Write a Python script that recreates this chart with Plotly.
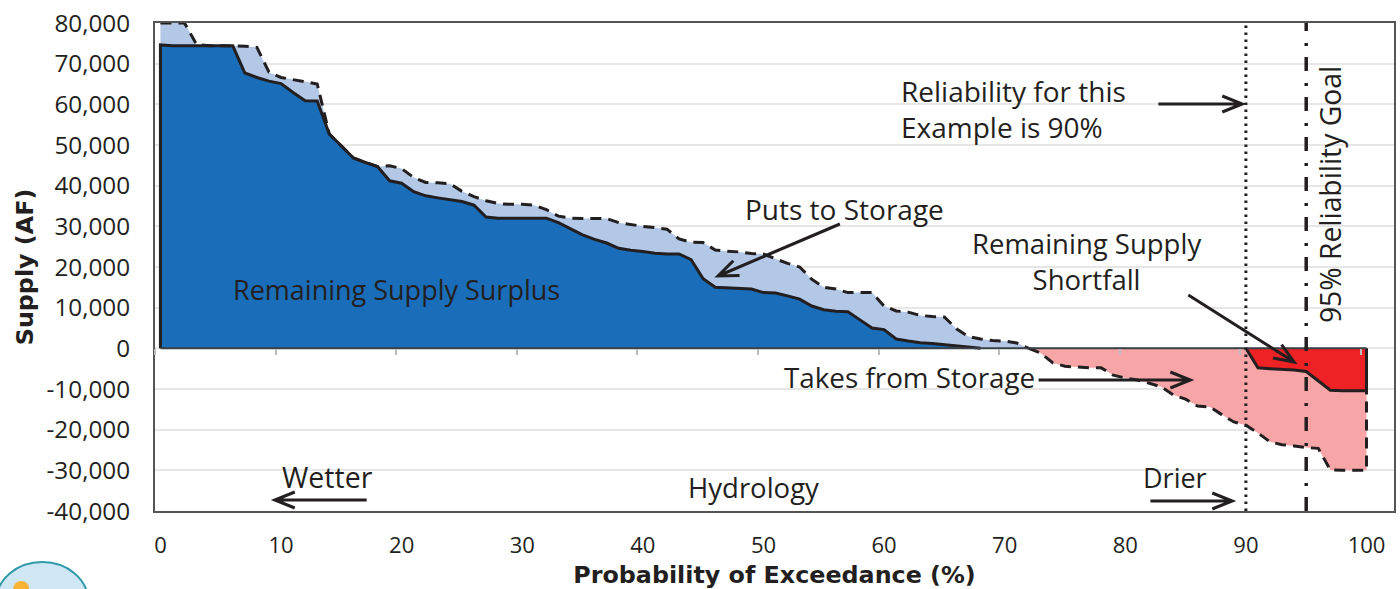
import plotly.graph_objects as go

# ---- data -------------------------------------------------------------
remaining_pct = list(range(0, 69))
remaining_supply = [74600, 74400, 74400, 74400, 74400, 74400, 74400, 67700, 66600, 65700,
    65100, 62900, 60900, 60800, 52700, 49800, 46800, 45700, 44700, 41200,
    40600, 38500, 37500, 37000, 36500, 36100, 35200, 32300, 32000, 32000,
    32000, 32000, 32000, 30900, 29300, 27900, 26800, 25900, 24600, 24100,
    23800, 23400, 23200, 23200, 21800, 17100, 15000, 14900, 14700, 14600,
    13700, 13600, 12900, 12100, 10400, 9500, 9100, 9000, 7000, 5000,
    4600, 2300, 1800, 1400, 1200, 900, 500, 300, 0]

puts_pct = list(range(0, 73))
with_puts = [80000, 80000, 80000, 74700, 74400, 74400, 74400, 74300, 74000, 67900,
    66600, 66100, 65600, 65000, 52700, 49800, 46800, 45700, 44700, 44900,
    44200, 42000, 40800, 40700, 40500, 38600, 37300, 36300, 35600, 35400,
    35400, 35200, 34100, 32500, 32000, 31900, 31900, 31900, 30900, 30400,
    30000, 29700, 29300, 26900, 26100, 26000, 24200, 23900, 23700, 23300,
    23200, 22000, 20900, 20000, 17000, 15000, 14600, 13700, 13700, 13700,
    10400, 9200, 8900, 8100, 7800, 7700, 4800, 2900, 2300, 1900,
    1800, 1300, 0]

takes_pct = list(range(72, 101))
with_takes = [0, -1200, -3600, -4400, -4600, -4800, -4800, -6600, -7300, -7800,
    -8600, -9500, -11500, -12500, -14200, -14400, -16300, -18100, -18900, -20800,
    -23000, -23700, -24000, -24400, -24600, -29900, -30000, -30000, -30000]

shortfall_pct = list(range(90, 101))
shortfall = [0, -4800, -5000, -5100, -5300, -5700, -8100, -10300, -10400, -10400, -10400]

x_ticks = list(range(0, 101, 10))
y_ticks = list(range(-40000, 80001, 10000))

# ---- figure geometry (page pixels; body margin removed at write time) ---
L, R, T, B = 155, 1396, 23, 511
W, H = 1400, 589
X_RANGE = [-0.45, 102.28]
def xp(px): return (px - L) / (R - L)
def yp(py): return 1 - (py - T) / (B - T)

FONT = "Open Sans"
INK = "#231f20"
BLUE, LBLUE, PINK, RED = "#1a6db8", "#b3c7e6", "#f8a5a8", "#ee2224"

fig = go.Figure()
def area(x, y, fc):
    fig.add_trace(go.Scatter(x=x, y=y, mode="none", fill="tozeroy", fillcolor=fc,
                             hoverinfo="skip", showlegend=False))
def line(x, y, dash):
    fig.add_trace(go.Scatter(x=x, y=y, mode="lines", hoverinfo="skip", showlegend=False,
                             line=dict(color=INK, width=3, dash=dash)))

area(puts_pct, with_puts, LBLUE)
area(takes_pct, with_takes, PINK)
area(remaining_pct, remaining_supply, BLUE)
area(shortfall_pct, shortfall, RED)
line(puts_pct + [None] + takes_pct + [100], with_puts + [None] + with_takes + [shortfall[-1]], "11px,7px")
line([0] + remaining_pct, [0] + remaining_supply, "solid")
line(shortfall_pct + [100], shortfall + [0], "solid")

# tick carrier on the zero line
fig.add_trace(go.Scatter(x=[0, 100], y=[0, 0], xaxis="x2", mode="lines", hoverinfo="skip",
                         showlegend=False, line=dict(color="#3a4045", width=2)))

fig.update_layout(
    width=W, height=H, autosize=False,
    margin=dict(l=L, r=W - R, t=T, b=H - B),
    paper_bgcolor="white", plot_bgcolor="white",
    font=dict(family=FONT, color=INK, size=24.3),
    xaxis=dict(range=X_RANGE, tickmode="array", tickvals=x_ticks, ticks="",
               tickfont=dict(size=22), showgrid=False, zeroline=False, ticklabelstandoff=14,
               showline=True, mirror=True, linecolor="#555555", linewidth=2,
               title=dict(text="<b>Probability of Exceedance (%)</b>",
                          font=dict(family="DejaVu Sans", size=23.8), standoff=8)),
    xaxis2=dict(range=X_RANGE, overlaying="x", anchor="free", position=40000 / 120000,
                tickmode="array", tickvals=[k * 10 - 0.45 for k in range(11)], ticks="outside",
                ticklen=6, tickcolor="#bbbbbb", tickwidth=1.5, showticklabels=False,
                showgrid=False, zeroline=False, showline=False),
    yaxis=dict(range=[-40000, 80000], tickmode="array", tickvals=y_ticks,
               ticktext=[f"{v:,}" for v in y_ticks], ticks="", ticklabelstandoff=18,
               ticklabeloverflow="allow",
               showgrid=True, gridcolor="#e6e6e6", gridwidth=1.5, zeroline=False,
               showline=True, mirror=True, linecolor="#555555", linewidth=2,
               title=dict(text="<b>Supply (AF)</b>",
                          font=dict(family="DejaVu Sans", size=23.8), standoff=6)),
)

# ---- reference lines ---------------------------------------------------
shapes = []
shapes.append(dict(type="line", xref="x", yref="paper", x0=90, x1=90, y0=0, y1=1,
                   line=dict(color=INK, width=3, dash="2.5px,4.5px")))
shapes.append(dict(type="line", xref="x", yref="paper", x0=95, x1=95, y0=0, y1=1,
                   line=dict(color=INK, width=3.5, dash="14px,11px,3px,12px")))

# ---- open-headed arrows ------------------------------------------------
def arrow(x0, y0, x1, y1, hl=20, hw=8, width=3):
    dx, dy = x1 - x0, y1 - y0
    n = (dx * dx + dy * dy) ** 0.5
    ux, uy = dx / n, dy / n
    ax, ay = x1 - ux * hl - uy * hw, y1 - uy * hl + ux * hw
    bx, by = x1 - ux * hl + uy * hw, y1 - uy * hl - ux * hw
    path = (f"M{xp(x0)},{yp(y0)} L{xp(x1)},{yp(y1)} "
            f"M{xp(ax)},{yp(ay)} L{xp(x1)},{yp(y1)} L{xp(bx)},{yp(by)}")
    shapes.append(dict(type="path", xref="paper", yref="paper", path=path,
                       line=dict(color=INK, width=width)))

arrow(1160, 104, 1244, 104)
arrow(841, 224, 719, 276)
arrow(1190, 295, 1296, 362)
arrow(1040, 380, 1192, 380)
arrow(367, 500, 275, 500)
arrow(1152, 501, 1234, 501)

# ---- logo fragment bottom-left ------------------------------------------
shapes.append(dict(type="circle", xref="paper", yref="paper", layer="below",
                   x0=xp(-4), x1=xp(88), y0=yp(562), y1=yp(640),
                   fillcolor="#cfe6f5", line=dict(color="#2f9aa8", width=2)))
shapes.append(dict(type="circle", xref="paper", yref="paper", layer="below",
                   x0=xp(13), x1=xp(29), y0=yp(581), y1=yp(597),
                   fillcolor="#f9b233", line=dict(width=0)))
fig.update_layout(shapes=shapes)

# ---- text --------------------------------------------------------------
def label(text, px, py, anchor="left", size=27.5, angle=0):
    fig.add_annotation(text=text, xref="paper", yref="paper", x=xp(px), y=yp(py),
                       xanchor=anchor, yanchor="middle", showarrow=False, textangle=angle,
                       align="center" if anchor == "center" else "left",
                       font=dict(family=FONT, size=size, color=INK))

label("Reliability for this<br>Example is 90%", 900, 109, size=28)
label("Puts to Storage", 846, 209, "center", size=28)
label("Remaining Supply<br>Shortfall", 1088, 261, "center")
label("Remaining Supply Surplus", 231, 289, size=27)
label("Takes from Storage", 911, 377, "center", size=27.8)
label("Wetter", 328, 477, "center", size=28.5)
label("Hydrology", 754, 487, "center")
label("Drier", 1177, 477, "center", size=27)
label("95% Reliability Goal", 1332, 195, "center", size=28.3, angle=-90)

fig.write_html("out.html", post_script="document.body.style.margin='0';",
               config={"displayModeBar": False})
